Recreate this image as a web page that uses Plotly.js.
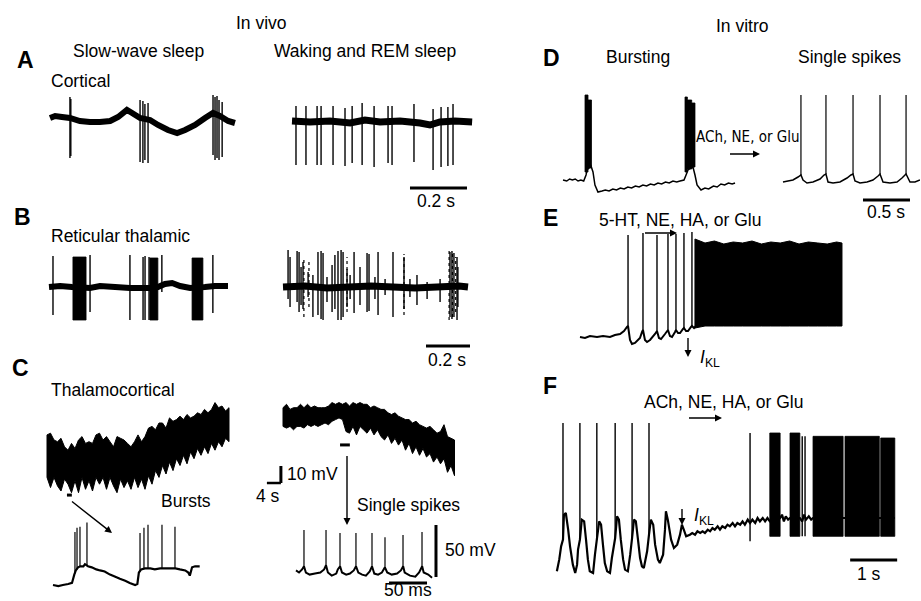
<!DOCTYPE html>
<html><head><meta charset="utf-8">
<script src="https://cdn.plot.ly/plotly-3.0.1.min.js"></script>
<style>html,body{margin:0;padding:0;background:#fff}#chart{width:921px;height:601px}</style>
</head><body><div id="chart"></div>
<script>
// ================= DATA (time in s or ms, potential in mV / a.u.) =================
// A – cortical neuron, slow-wave sleep
const aSwsT = [0,0.018,0.042,0.070,0.105,0.140,0.175,0.211,0.239,0.270,0.288,0.316,0.351,0.379,0.414,0.446,0.474,0.509,0.544,0.572,0.596,0.625,0.649];
const aSwsV = [0,2,1,0,-3,-4,-4,-3,1,8,5,0,-2,-7,-12,-15,-12,-7,0,5,2,-3,-5];
const aSwsSpikeT   = [0.070,0.073,0.316,0.326,0.333,0.344,0.572,0.579,0.586,0.593,0.604];
const aSwsSpikeTop = [21,19,18,17,14,15,23,21,22,18,16];
const aSwsSpikeBot = [-40,-38,-44,-45,-42,-45,-37,-42,-40,-42,-39];
// A – cortical neuron, waking / REM
const aWakeT = [0,0.063,0.133,0.204,0.256,0.309,0.379,0.449,0.484,0.519,0.572,0.632];
const aWakeV = [1,0,1,-1,2,0,1,-1,-3,0,1,0];
const aWakeSpikeT   = [0.014,0.049,0.088,0.102,0.144,0.186,0.211,0.246,0.288,0.337,0.351,0.428,0.495,0.523,0.547,0.565];
const aWakeSpikeTop = [16,16,16,16,16,14,16,19,16,16,16,18,13,15,15,18];
const aWakeSpikeBot = [-43,-43,-43,-43,-43,-44,-41,-43,-45,-41,-43,-40,-48,-45,-44,-43];
// B – reticular thalamic, slow-wave sleep
const bSwsT = [0,0.039,0.081,0.144,0.179,0.232,0.284,0.354,0.382,0.407,0.432,0.460,0.495,0.547,0.582,0.628];
const bSwsV = [0,1,0,-1,1,0,-1,-1,0,3,4,1,-1,0,1,1];
const bSwsSpikeT   = [0.014,0.144,0.284,0.330,0.337,0.351,0.396,0.575];
const bSwsSpikeTop = [31,32,32,30,31,30,32,32];
const bSwsSpikeBot = [-28,-25,-33,-33,-33,-33,-5,-26];
const bSwsBurstStart = [0.084,0.354,0.502];
const bSwsBurstEnd   = [0.130,0.382,0.540];
const bSwsBurstTop   = [30,29,29];
const bSwsBurstBot   = [-33,-33,-33];
// B – reticular thalamic, waking
const bWakeT = [0,0.1,0.2,0.3,0.4,0.5,0.6,0.7,0.8,0.841];
const bWakeV = [0,1,-1,0,1,0,-1,0,1,0];
const bWakeSpikeT = [0.023,0.032,0.064,0.073,0.082,0.091,0.114,0.136,0.159,0.173,0.182,0.200,0.223,0.236,0.250,0.264,0.273,0.291,0.305,0.323,0.350,0.382,0.391,0.418,0.432,0.464,0.500,0.550,0.577,0.609,0.655,0.714,0.759,0.768,0.777,0.791,0.795];
const bWakeSpikeTop = [37,30,36,35,20,25,15,12,35,36,34,10,22,32,36,37,35,18,12,35,20,34,33,10,35,8,35,30,8,12,5,8,35,36,34,30,20];
const bWakeSpikeBot = [-12,-20,-15,-25,-18,-22,-10,-30,-28,-32,-33,-15,-25,-22,-33,-33,-30,-20,-12,-26,-18,-25,-24,-12,-28,-8,-30,-22,-10,-18,-12,-15,-30,-32,-30,-33,-20];
const bWakeDotT   = [0.095,0.118,0.291,0.550,0.755,0.770,0.785];
const bWakeDotTop = [30,25,30,33,36,35,30];
const bWakeDotBot = [-30,-20,-25,-28,-33,-30,-25];
// C – thalamocortical, slow time base (s, mV)
const cSwsT   = [0,1,2,3,4,5,6,7,8,9,10,11,12,13,14,15,16,17,18,19,20,21,22,23,24,25,26,27,28,29,30,31,32,33,34,35,36,37,38,39,40,41,42,43,44,45,46,47,48,49,50,51,52];
const cSwsTop = [-52,-51,-55,-56,-54,-59,-61,-57,-60,-55,-53,-57,-56,-57,-52,-51,-55,-53,-56,-59,-53,-54,-55,-57,-59,-56,-52,-56,-53,-48,-47,-49,-45,-45,-48,-42,-44,-43,-41,-43,-40,-42,-41,-39,-40,-37,-39,-37,-33,-36,-35,-38,-36];
const cSwsBot = [-77,-83,-77,-82,-85,-78,-81,-86,-79,-86,-77,-84,-79,-85,-77,-81,-77,-84,-77,-82,-86,-78,-83,-79,-84,-77,-83,-78,-84,-76,-81,-73,-77,-70,-75,-68,-73,-66,-70,-64,-69,-62,-66,-60,-64,-59,-63,-57,-61,-56,-59,-54,-56];
const cWakeT   = [0,1,2,3,4,5,6,7,8,9,10,11,12,13,14,15,16,17,18,19,20,21,22,23,24,25,26,27,28,29,30,31,32,33,34,35,36,37,38,39,40,41,42,43,44,45,46,47,48,49];
const cWakeTop = [-36,-34,-37,-36,-36,-34,-36,-34,-36,-35,-36,-36,-36,-35,-33,-34,-33,-34,-33,-35,-33,-34,-33,-34,-34,-36,-35,-36,-37,-37,-39,-40,-39,-41,-42,-43,-43,-45,-44,-46,-47,-48,-47,-49,-51,-50,-46,-53,-54,-55];
const cWakeBot = [-47,-48,-47,-49,-47,-47,-48,-46,-47,-46,-47,-46,-45,-46,-44,-43,-42,-43,-50,-51,-47,-52,-47,-49,-51,-48,-52,-49,-53,-55,-52,-57,-54,-58,-55,-61,-57,-63,-59,-64,-60,-65,-63,-68,-65,-69,-66,-74,-70,-76];
// C – expanded: bursts (ms, mV)
const cBurstT = [0,7,13,20,25,28,30,33,36,40,42,46,51,57,62,68,75,82,88,95,101,108,111,113,116,121,128,134,141,147,154,161,167,174,178,180,183,187,193];
const cBurstV = [-65,-66,-65,-64,-63,-55,-51,-48,-47,-47,-45,-47,-48,-50,-51,-52,-55,-57,-59,-61,-63,-65,-64,-53,-50,-49,-49,-50,-49,-49,-49,-49,-50,-51,-53,-56,-48,-47,-47];
const cBurstSpikeT    = [28.9,31.6,35.5,44.7,114.5,119.7,125,143.4,160.5];
const cBurstSpikeBase = [-54,-50,-47,-46,-52,-49,-49,-49,-49];
const cBurstSpikePeak = [-14,-10,-9,-5,-15,-10,-7,-7,-9];
// C – expanded: single spikes (ms, mV)
const cTonicT = [0,4,8,10.5,13,18,25,32,37,39.5,42,47,53,55,58,60.5,66,71,76,79,82,87,92,97,100,103,108,113,117,120,126,133,138,141,143,150,157,162,166,168,174,179];
const cTonicV = [-51,-53,-50,-47,-53,-55,-54,-53,-50,-46,-53,-56,-54,-50,-47,-53,-55,-54,-51,-47,-53,-55,-56,-52,-47,-54,-55,-53,-48,-53,-55,-54,-51,-47,-53,-56,-57,-53,-47,-53,-55,-58];
const cTonicSpikeT    = [10.5,39.5,57.9,78.9,100,117.1,140.8,165.8];
const cTonicSpikeBase = [-47,-46,-47,-47,-47,-48,-47,-47];
const cTonicSpikePeak = [-12,-12,-15,-15,-15,-19,-17,-14];
// D – in vitro bursting (s, mV)
const dBurstT = [0,0.04,0.07,0.10,0.13,0.16,0.19,0.22,0.245,0.255,0.277,0.298,0.319,0.340,0.372,0.415,0.45,0.49,0.53,0.57,0.61,0.65,0.69,0.73,0.77,0.81,0.85,0.89,0.93,0.97,1.01,1.05,1.09,1.13,1.17,1.21,1.245,1.287,1.309,1.330,1.362,1.383,1.404,1.426,1.468,1.51,1.55,1.60,1.64,1.68,1.72,1.76,1.80,1.83];
const dBurstV = [-60,-61,-59,-60,-59,-61,-60,-61,-55,-50,-48,-46,-52,-65,-72,-71,-70,-71,-69,-70,-68,-69,-67,-68,-66,-67,-65,-66,-64,-65,-63,-64,-62,-63,-61,-62,-61,-60,-55,-50,-48,-47,-55,-65,-70,-68,-69,-66,-67,-64,-65,-63,-64,-63];
const dBlockStart = [0.234,0.266,1.298,1.323,1.369];
const dBlockEnd   = [0.266,0.303,1.323,1.369,1.404];
const dBlockTop   = [25,20,23,20,17];
const dBlockBot   = [-52,-48,-52,-49,-47];
// D – in vitro single spikes (s, mV)
const dTonicT = [0,0.053,0.106,0.160,0.191,0.213,0.255,0.319,0.394,0.436,0.457,0.479,0.532,0.606,0.681,0.723,0.745,0.766,0.819,0.894,0.957,1.011,1.032,1.064,1.138,1.213,1.266,1.298,1.309,1.351,1.404,1.457];
const dTonicV = [-60,-59,-58,-55,-53,-58,-61,-60,-57,-53,-52,-60,-61,-60,-56,-53,-52,-59,-61,-60,-58,-54,-52,-60,-61,-60,-56,-53,-52,-60,-60,-58];
const dTonicSpikeT    = [0.191,0.457,0.745,1.032,1.309];
const dTonicSpikeBase = [-53,-52,-52,-52,-52];
const dTonicSpikePeak = [27,27,27,27,27];
// E – 5-HT, NE, HA or Glu (s, mV)
const eT = [0,0.053,0.106,0.181,0.245,0.319,0.372,0.426,0.468,0.500,0.511,0.532,0.553,0.585,0.638,0.660,0.670,0.691,0.713,0.745,0.798,0.819,0.840,0.862,0.904,0.936,0.957,0.979,1.011,1.021,1.043,1.064,1.096,1.106,1.128,1.149,1.181,1.191,1.213,1.234];
const eV = [-60,-61,-59,-60,-59,-60,-58,-57,-54,-50,-49,-63,-67,-66,-61,-55,-53,-63,-65,-63,-57,-54,-61,-62,-57,-53,-59,-60,-55,-53,-56,-56,-52,-51,-54,-54,-50,-49,-51,-49];
const eSpikeT    = [0.511,0.670,0.819,0.936,1.021,1.106,1.191];
const eSpikeBase = [-49,-53,-54,-53,-53,-51,-49];
const eSpikePeak = [42,44,42,43,43,44,45];
const eFiringT   = [1.223,1.33,1.43,1.53,1.63,1.73,1.83,1.93,2.03,2.13,2.23,2.33,2.43,2.53,2.63,2.73,2.787];
const eFiringTop = [38,34,36,33,35,34,36,33,35,34,36,33,35,34,33,35,34];
const eFiringBot = [-51,-49,-49,-49,-49,-49,-49,-49,-49,-49,-49,-49,-49,-49,-49,-49,-49];
// F – ACh, NE, HA or Glu (s, mV)
const fT = [0.04,0.09,0.13,0.17,0.19,0.23,0.28,0.32,0.38,0.43,0.47,0.49,0.53,0.57,0.62,0.66,0.70,0.74,0.81,0.85,0.89,0.94,0.98,1.02,1.06,1.11,1.17,1.21,1.28,1.32,1.36,1.40,1.45,1.49,1.55,1.60,1.64,1.68,1.72,1.77,1.81,1.85,1.89,1.96,2.00,2.04,2.09,2.13,2.19,2.23,2.30,2.34,2.36,2.40,2.47,2.53,2.60,2.66,2.70,2.74,2.79,2.87,2.92,2.98,3.03,3.09,3.14,3.19,3.25,3.30,3.35,3.40,3.46,3.51,3.56,3.62,3.67,3.72,3.78,3.83,3.88,3.94,3.99,4.04,4.10,4.15,4.20,4.26,4.31,4.36,4.42,4.47,4.52,4.57,4.62,4.68,4.74,4.79,4.83,4.87,4.91,4.96,5.00,5.10,5.21,5.26,5.30,5.34,5.40,5.45,5.49,6.00,6.50,7.00,7.23];
const fV = [-69,-62,-54,-50,-35,-34,-44,-54,-65,-70,-65,-56,-50,-38,-39,-50,-62,-69,-70,-59,-50,-39,-41,-53,-64,-69,-70,-61,-49,-36,-38,-50,-62,-68,-69,-59,-49,-38,-39,-51,-61,-66,-67,-57,-47,-38,-41,-53,-62,-64,-59,-44,-33,-38,-50,-55,-53,-47,-41,-44,-48,-47,-46,-47,-45,-46,-45,-46,-44,-45,-43,-44,-42,-44,-42,-43,-41,-42,-40,-42,-40,-41,-39,-41,-38,-40,-38,-40,-37,-39,-37,-39,-37,-39,-38,-37,-38,-37,-35,-39,-36,-38,-37,-37,-37,-39,-35,-38,-36,-38,-37,-37,-37,-37,-37];
const fSpikeT    = [0.17,0.53,0.89,1.28,1.64,2.00,4.15,5.26,5.32];
const fSpikeBase = [-50,-50,-50,-49,-49,-47,-51,-48,-48];
const fSpikePeak = [20,20,20,20,20,20,14,12,12];
const fFiringStart = [4.57,5.00,5.49,6.17,6.93];
const fFiringEnd   = [4.79,5.21,6.13,6.90,7.23];
const fFiringTop   = [14,14,12,12,11];
const fFiringBot   = [-48,-48,-48,-48,-48];
// scale bars
const scaleA = 0.2, scaleB = 0.2, scaleCt = 4, scaleCv = 10, scaleCms = 50, scaleCmv = 50, scaleD = 0.5, scaleF = 1;

// ================= BUILD =================
const W = 921, H = 601;
const FONT = 'Liberation Sans, Arial, Helvetica, sans-serif';
const layout = {width:W, height:H, margin:{l:0,r:0,t:0,b:0}, paper_bgcolor:'#fff',
  plot_bgcolor:'rgba(0,0,0,0)', showlegend:false, annotations:[], hovermode:false};
const data = [];
let nAx = 0;
function panel(box, m){
  nAx++;
  const s = nAx === 1 ? '' : String(nAx);
  layout['xaxis'+s] = {domain:[box[0]/W, box[1]/W], range:[(box[0]-m.X0)/m.sx, (box[1]-m.X0)/m.sx],
    visible:false, fixedrange:true, anchor:'y'+s};
  layout['yaxis'+s] = {domain:[1-box[3]/H, 1-box[2]/H], range:[m.V0+(m.Y0-box[3])/m.sy, m.V0+(m.Y0-box[2])/m.sy],
    visible:false, fixedrange:true, anchor:'x'+s};
  return {x:'x'+s, y:'y'+s};
}
function line(ax, xs, ys, w, dash){
  data.push({type:'scatter', mode:'lines', x:xs, y:ys, xaxis:ax.x, yaxis:ax.y,
    line:{color:'#000', width:w, simplify:false, dash:dash||'solid'}, hoverinfo:'skip'});
}
function spikes(ax, ts, lo, hi, w, dash){
  const x = [], y = [];
  ts.forEach((t,i)=>{ x.push(t,t,null); y.push(lo[i],hi[i],null); });
  line(ax, x, y, w, dash);
}
function blocks(ax, st, en, top, bot){
  const x = [], y = [];
  st.forEach((s,i)=>{ x.push(s,s,en[i],en[i],s,null); y.push(bot[i],top[i],top[i],bot[i],bot[i],null); });
  data.push({type:'scatter', mode:'lines', x, y, xaxis:ax.x, yaxis:ax.y, fill:'toself',
    fillcolor:'#000', line:{color:'#000', width:0.8}, hoverinfo:'skip'});
}
function envelope(ax, ts, top, bot){
  const x = ts.concat(ts.slice().reverse()), y = top.concat(bot.slice().reverse());
  x.push(ts[0]); y.push(top[0]);
  data.push({type:'scatter', mode:'lines', x, y, xaxis:ax.x, yaxis:ax.y, fill:'toself',
    fillcolor:'#000', line:{color:'#000', width:1, simplify:false}, hoverinfo:'skip'});
}
function txt(s, x, y, o){
  o = o || {};
  layout.annotations.push({text:s, xref:'paper', yref:'paper', x:x/W, y:1-y/H, showarrow:false,
    xanchor:o.xa||'center', yanchor:'middle',
    font:{family:o.family||FONT, size:o.size||17.5, color:'#000'}});
}
function arrow(hx, hy, tx, ty){
  layout.annotations.push({text:' ', xref:'paper', yref:'paper', x:hx/W, y:1-hy/H, ax:tx-hx, ay:ty-hy,
    showarrow:true, arrowhead:2, arrowsize:1, arrowwidth:1.4, arrowcolor:'#000', standoff:0,
    font:{size:2}});
}

// ---- Panel A ----
const pA1 = panel([44,240,85,175], {X0:50, sx:285, Y0:118, V0:0, sy:1});
line(pA1, aSwsT, aSwsV, 6);
spikes(pA1, aSwsSpikeT, aSwsSpikeBot, aSwsSpikeTop, 1.4);
const pA2 = panel([286,476,95,200], {X0:292, sx:285, Y0:122, V0:0, sy:1});
line(pA2, aWakeT, aWakeV, 7);
spikes(pA2, aWakeSpikeT, aWakeSpikeBot, aWakeSpikeTop, 1.4);
line(pA2, [0.414, 0.414+scaleA], [-66,-66], 3);

// ---- Panel B ----
const pB1 = panel([44,236,245,330], {X0:49, sx:285, Y0:287, V0:0, sy:1});
line(pB1, bSwsT, bSwsV, 6);
spikes(pB1, bSwsSpikeT, bSwsSpikeBot, bSwsSpikeTop, 1.4);
blocks(pB1, bSwsBurstStart, bSwsBurstEnd, bSwsBurstTop, bSwsBurstBot);
const pB2 = panel([278,476,240,355], {X0:283, sx:220, Y0:287, V0:0, sy:1});
line(pB2, bWakeT, bWakeV, 7);
spikes(pB2, bWakeSpikeT, bWakeSpikeBot, bWakeSpikeTop, 1.4);
spikes(pB2, bWakeDotT, bWakeDotBot, bWakeDotTop, 1.2, 'dot');
line(pB2, [0.65, 0.65+scaleB], [-59,-59], 3);

// ---- Panel C (slow) ----
const pC1 = panel([40,236,395,502], {X0:47, sx:3.5, Y0:440, V0:-55, sy:1.7});
envelope(pC1, cSwsT, cSwsTop, cSwsBot);
line(pC1, [5.7, 7.1], [-87.4,-87.4], 3);
const pC2 = panel([258,462,395,492], {X0:283, sx:3.5, Y0:440, V0:-55, sy:1.7});
envelope(pC2, cWakeT, cWakeTop, cWakeBot);
line(pC2, [16.3, 19.1], [-57.9,-57.9], 3);
line(pC2, [-0.6-scaleCt, -0.6], [-80.3,-80.3], 2.5);
line(pC2, [-0.6, -0.6], [-80.3, -80.3+scaleCv], 3);

// ---- Panel C (expanded) ----
const pC3 = panel([46,206,515,595], {X0:53, sx:0.76, Y0:585, V0:-65, sy:1.04});
line(pC3, cBurstT, cBurstV, 2.2);
spikes(pC3, cBurstSpikeT, cBurstSpikeBase, cBurstSpikePeak, 1.2);
const pC4 = panel([290,442,520,590], {X0:296, sx:0.76, Y0:585, V0:-65, sy:1.04});
line(pC4, cTonicT, cTonicV, 2);
spikes(pC4, cTonicSpikeT, cTonicSpikeBase, cTonicSpikePeak, 1.2);
line(pC4, [184.2,184.2], [-57.3,-57.3+scaleCmv], 3);
line(pC4, [122.4,122.4+scaleCms], [-63.1,-63.1], 3);

// ---- Panel D ----
const pD1 = panel([558,742,88,200], {X0:563, sx:94, Y0:180, V0:-60, sy:1});
line(pD1, dBurstT, dBurstV, 1.5);
blocks(pD1, dBlockStart, dBlockEnd, dBlockTop, dBlockBot);
const pD2 = panel([778,920,88,206], {X0:783, sx:94, Y0:182, V0:-60, sy:1});
line(pD2, dTonicT, dTonicV, 1.5);
spikes(pD2, dTonicSpikeT, dTonicSpikeBase, dTonicSpikePeak, 1.2);
line(pD2, [0.851,0.851+scaleD], [-78,-78], 3);

// ---- Panel E ----
const pE = panel([575,846,226,350], {X0:580, sx:94, Y0:337, V0:-60, sy:1});
line(pE, eT, eV, 2);
spikes(pE, eSpikeT, eSpikeBase, eSpikePeak, 1.4);
envelope(pE, eFiringT, eFiringTop, eFiringBot);

// ---- Panel F ----
const pF = panel([550,902,416,582], {X0:555, sx:47, Y0:573, V0:-70, sy:1/0.6});
line(pF, fT, fV, 2.2);
spikes(pF, fSpikeT, fSpikeBase, fSpikePeak, 1.4);
blocks(pF, fFiringStart, fFiringEnd, fFiringTop, fFiringBot);
line(pF, [6.28, 6.28+scaleF], [-62.2,-62.2], 3);

// ---- Text ----
txt('In vivo', 261, 23);
txt('In vitro', 742, 26);
txt('<b>A</b>', 25, 60, {size:23});
txt('<b>B</b>', 22, 217, {size:23});
txt('<b>C</b>', 20, 368, {size:23});
txt('<b>D</b>', 551, 58, {size:23});
txt('<b>E</b>', 550, 218, {size:23});
txt('<b>F</b>', 550, 386, {size:23});
txt('Slow-wave sleep', 138, 51);
txt('Waking and REM sleep', 365, 51);
txt('Cortical', 49, 81, {xa:'left'});
txt('0.2 s', 436, 201);
txt('Reticular thalamic', 49, 236, {xa:'left'});
txt('0.2 s', 447, 360);
txt('Thalamocortical', 49, 390, {xa:'left'});
txt('10 mV', 285, 474, {xa:'left'});
txt('4 s', 268, 496);
txt('Bursts', 186, 501);
txt('Single spikes', 408, 505);
txt('50 mV', 443, 550, {xa:'left'});
txt('50 ms', 408, 590);
txt('Bursting', 638, 57);
txt('Single spikes', 849, 57);
txt('ACh, NE, or Glu', 748, 137, {family:'DejaVu Sans Condensed, '+FONT, size:15});
txt('0.5 s', 886, 212);
txt('5-HT, NE, HA, or Glu', 680, 220);
txt('<i>I</i><sub>KL</sub>', 710, 358);
txt('ACh, NE, HA, or Glu', 724, 402);
txt('<i>I</i><sub>KL</sub>', 704, 516);
txt('1 s', 869, 574);
// arrows
arrow(112,533, 70,500);
arrow(347,525, 347,453);
arrow(760,154, 728,154);
arrow(677,233, 643,233);
arrow(688,357, 688,335);
arrow(722,418, 687,418);
arrow(682,525, 682,506);

Plotly.newPlot('chart', data, layout, {staticPlot:true, displayModeBar:false});
</script></body></html>
